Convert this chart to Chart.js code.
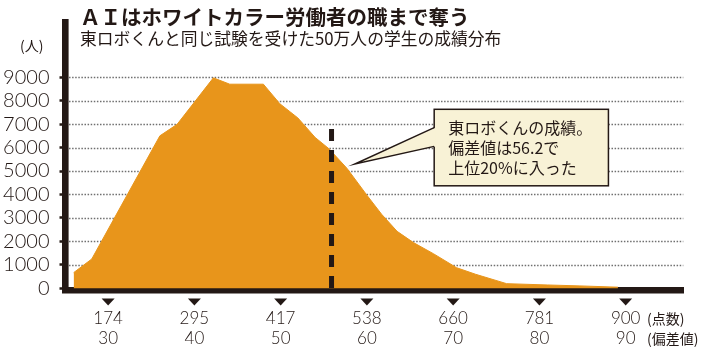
<!DOCTYPE html>
<html>
<head>
<meta charset="utf-8">
<script src="https://cdn.jsdelivr.net/npm/chart.js@4.4.1/dist/chart.umd.min.js"></script>
<style>
  html, body { margin: 0; padding: 0; background: #fff; }
  #wrap { width: 710px; height: 348px; position: relative; }
</style>
</head>
<body>
<div id="wrap"><canvas id="scoreChart"></canvas></div>
<script>
// distribution (x = 偏差値, y = 人数)
const devPoints = [26.0, 28.1, 36.0, 38.0, 42.2, 44.1, 48.0, 49.9, 52.0, 54.0, 55.6, 57.7, 60.0, 61.7, 63.5, 65.4, 67.7, 70.4, 72.6, 76.2, 80.9, 84.7, 89.1];
const counts    = [670, 1250, 6500, 6990, 8970, 8700, 8700, 7870, 7260, 6430, 5950, 5110, 3970, 3160, 2430, 1950, 1480, 880, 600, 200, 145, 105, 50];

const tickDevs   = [30, 40, 50, 60, 70, 80, 90];
const tickScores = [174, 295, 417, 538, 660, 781, 900];
const yTicks     = [0, 1000, 2000, 3000, 4000, 5000, 6000, 7000, 8000, 9000];

const robotDev = 55.9;   // 東ロボくん (偏差値56.2)
const robotTop = 6790;

const titleText = 'ＡＩはホワイトカラー労働者の職まで奪う';
const subText = '東ロボくんと同じ試験を受けた50万人の学生の成績分布';
const noteLines = ['東ロボくんの成績。', '偏差値は56.2で', '上位20%に入った'];

const INK = '#231815';
const ORANGE = '#e8951b';
const CJK = '"Noto Sans CJK JP", "Noto Sans", sans-serif';
const NUM = 'Lato, "Noto Sans", sans-serif';

// dotted horizontal guides behind the area
const dottedGrid = {
  id: 'dottedGrid',
  beforeDatasetsDraw(chart) {
    const ctx = chart.ctx, y = chart.scales.y, area = chart.chartArea;
    ctx.save();
    ctx.strokeStyle = '#6f6f6f';
    ctx.lineWidth = 1.5;
    ctx.setLineDash([1.5, 1.6]);
    yTicks.forEach(v => {
      if (v === 0) return;
      const py = Math.round(y.getPixelForValue(v)) + 0.5;
      ctx.beginPath();
      ctx.moveTo(area.left + 4, py);
      ctx.lineTo(area.right, py);
      ctx.stroke();
    });
    ctx.restore();
  }
};

const extras = {
  id: 'extras',
  afterDraw(chart) {
    const ctx = chart.ctx;
    const x = chart.scales.x, y = chart.scales.y;
    ctx.save();
    ctx.fillStyle = INK;
    ctx.textBaseline = 'middle';
    ctx.textAlign = 'left';
    ctx.font = 'bold 20.5px ' + CJK;
    ctx.fillText(titleText, 80, 17);
    ctx.font = '16.8px ' + CJK;
    ctx.fillText(subText, 80, 38.5);
    ctx.font = '14px ' + CJK;
    ctx.fillText('(人)', 20, 46);

    // markers under the axis
    tickDevs.forEach(v => {
      const px = x.getPixelForValue(v);
      ctx.beginPath();
      ctx.moveTo(px - 6.5, 298.5);
      ctx.lineTo(px + 6.5, 298.5);
      ctx.lineTo(px, 305.5);
      ctx.closePath();
      ctx.fill();
    });
    ctx.font = '14px ' + CJK;
    ctx.fillText('(点数)', 647, 319);
    ctx.fillText('(偏差値)', 647, 339);

    // callout
    const bl = x.getPixelForValue(67.8), br = x.getPixelForValue(88.0);
    const bt = y.getPixelForValue(7630), bb = y.getPixelForValue(4370);
    const tipX = x.getPixelForValue(58.6), tipY = y.getPixelForValue(5300);
    const w1 = y.getPixelForValue(6850), w2 = y.getPixelForValue(6050);
    ctx.fillStyle = '#f8f2d6';
    ctx.strokeStyle = INK;
    ctx.lineWidth = 1.5;
    ctx.fillRect(bl, bt, br - bl, bb - bt);
    ctx.strokeRect(bl, bt, br - bl, bb - bt);
    ctx.beginPath();
    ctx.moveTo(bl + 1.5, w1);
    ctx.lineTo(tipX, tipY);
    ctx.lineTo(bl + 1.5, w2);
    ctx.closePath();
    ctx.fill();
    ctx.beginPath();
    ctx.moveTo(bl, w1);
    ctx.lineTo(tipX, tipY);
    ctx.lineTo(bl, w2);
    ctx.stroke();
    ctx.fillStyle = INK;
    ctx.font = '16px ' + CJK;
    noteLines.forEach((t, i) => ctx.fillText(t, bl + 14, bt + 19 + i * 20));
    ctx.restore();
  }
};

new Chart(document.getElementById('scoreChart'), {
  type: 'line',
  data: {
    datasets: [
      {
        data: [{x: robotDev, y: robotTop}, {x: robotDev, y: 0}],
        borderColor: INK,
        borderWidth: 5,
        borderDash: [12, 9],
        pointRadius: 0,
        fill: false,
        order: 1
      },
      {
        data: devPoints.map((d, i) => ({x: d, y: counts[i]})),
        borderColor: ORANGE,
        borderWidth: 1,
        backgroundColor: ORANGE,
        fill: 'origin',
        pointRadius: 0,
        tension: 0,
        order: 2
      }
    ]
  },
  options: {
    responsive: true,
    maintainAspectRatio: false,
    animation: false,
    devicePixelRatio: 1,
    layout: { padding: { top: 7, right: 26.7, left: 0, bottom: 0 } },
    plugins: { legend: { display: false }, tooltip: { enabled: false } },
    scales: {
      x: {
        type: 'linear',
        min: 25,
        max: 96.68,
        afterBuildTicks: axis => { axis.ticks = tickDevs.map(v => ({value: v})); },
        afterFit: axis => { axis.height = 58; },
        grid: { display: false, drawTicks: false },
        border: { display: true, color: INK, width: 6.6 },
        ticks: {
          autoSkip: false,
          maxRotation: 0,
          padding: 19,
          color: INK,
          font: { family: NUM, size: 17, weight: 300, lineHeight: '20px' },
          callback: v => {
            const i = tickDevs.indexOf(v);
            return [String(tickScores[i]), String(tickDevs[i])];
          }
        }
      },
      y: {
        min: -70,
        max: 11350,
        afterBuildTicks: axis => { axis.ticks = yTicks.map(v => ({value: v})); },
        afterFit: axis => { axis.width = 65; },
        grid: {
          drawOnChartArea: false,
          drawTicks: true,
          tickLength: 5.5,
          tickWidth: 2.5,
          tickColor: INK
        },
        border: { display: true, color: INK, width: 6.6 },
        ticks: {
          padding: 10,
          color: INK,
          font: { family: NUM, size: 20, weight: 300 },
          callback: v => String(v)
        }
      }
    }
  },
  plugins: [dottedGrid, extras]
});
</script>
</body>
</html>
